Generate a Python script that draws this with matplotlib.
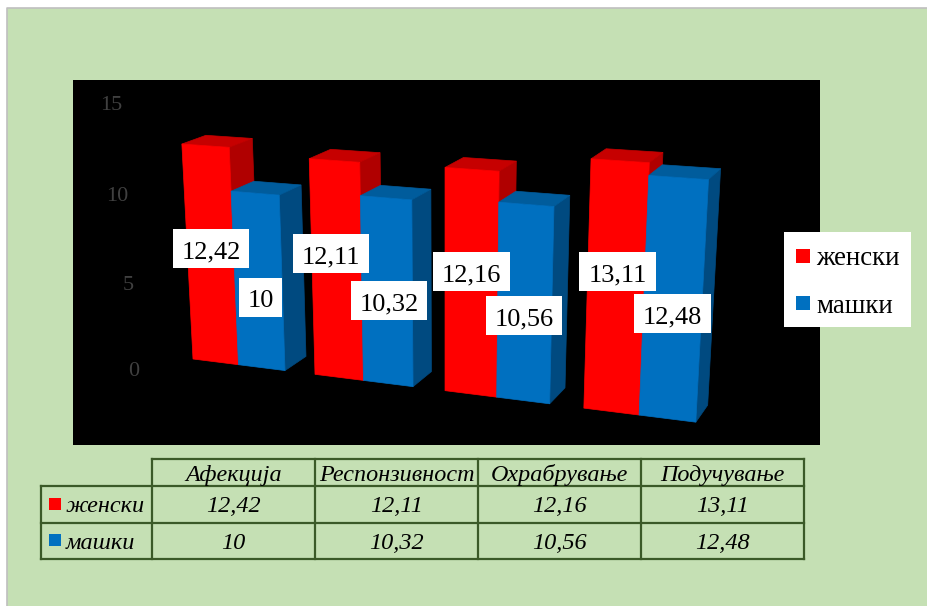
import matplotlib
matplotlib.use('Agg')
import matplotlib.pyplot as plt
from matplotlib.patches import Polygon, Rectangle

categories = ['Афекција', 'Респонзивност', 'Охрабрување', 'Подучување']
series_names = ['женски', 'машки']
female_values = [12.42, 12.11, 12.16, 13.11]
male_values = [10, 10.32, 10.56, 12.48]
y_ticks = [0, 5, 10, 15]

PAGE_BG = '#C5E0B4'
GRID_GREEN = '#3B5A28'
RED_FACES = ('#FF0000', '#B00000', '#C60000')    # front, side, top
BLUE_FACES = ('#0070C0', '#004A80', '#005C9C')

BAR_WIDTH = 0.38

# label box centres, the labels sit by hand off the bars
label_centres = [[(211, 248.5), (331, 253.5), (471.5, 271.5), (617.5, 271.5)],
                 [(260.5, 297.5), (389, 300.5), (524, 315.5), (672.5, 313.5)]]
column_edges = [152, 315, 478, 641, 804]
row_edges = [459, 486, 523, 559]


def fmt(value):
    return str(value).replace('.', ',')


def project(x, y, z):
    # perspective of the 3d box: x in categories, y in value units, z in depth
    w = 1 - 0.0308 * x - 0.00341 * y + 0.0249 * z
    u = 193 + 112.3 * x - 1.517 * y + 28.1 * z
    v = 359 + 3.8 * x - 17.8 * y - 4.98 * z
    return u / w, v / w


def draw_bar(ax, x0, height, faces):
    x1 = x0 + BAR_WIDTH
    front = [(x0, 0, 0), (x1, 0, 0), (x1, height, 0), (x0, height, 0)]
    side = [(x1, 0, 0), (x1, 0, 1), (x1, height, 1), (x1, height, 0)]
    top = [(x0, height, 0), (x1, height, 0), (x1, height, 1), (x0, height, 1)]
    for corners, color in ((side, faces[1]), (top, faces[2]), (front, faces[0])):
        pts = [project(*c) for c in corners]
        ax.add_patch(Polygon(pts, closed=True, fc=color, ec=color, lw=0.5, zorder=3))


plt.rcParams['font.family'] = ['Liberation Serif', 'DejaVu Serif']

fig = plt.figure(figsize=(9.28, 6.06), dpi=100, facecolor='white')
ax = fig.add_axes([0, 0, 1, 1])
ax.set_xlim(0, 928)
ax.set_ylim(606, 0)
ax.axis('off')

# page background, ruled on the top and left only
ax.add_patch(Rectangle((7.5, 7.5), 921, 599, fc=PAGE_BG, ec='none', zorder=1))
ax.plot([7.5, 7.5, 928], [606, 7.5, 7.5], color='#BFBFBF', lw=1.2, zorder=1)
ax.add_patch(Rectangle((73, 80), 747, 365, fc='black', ec='none', zorder=2))

for value in y_ticks:
    u, v = project(-0.26, value, -1)
    ax.text(u + 1, v + 2, str(value), ha='right', va='center', fontsize=16,
            color='#404040', zorder=3)

for i in range(len(categories)):
    draw_bar(ax, i, female_values[i], RED_FACES)
    draw_bar(ax, i + BAR_WIDTH, male_values[i], BLUE_FACES)

# value labels on white boxes
for values, centres in zip((female_values, male_values), label_centres):
    for value, (cx, cy) in zip(values, centres):
        w = 43 if len(fmt(value)) == 2 else 76.5
        ax.add_patch(Rectangle((cx - w / 2, cy - 19.5), w, 39, fc='white', ec='none', zorder=4))
        ax.text(cx, cy + 9.5, fmt(value), ha='center', va='baseline', fontsize=19,
                color='black', zorder=5)

# legend
ax.add_patch(Rectangle((784, 232), 127, 95, fc='white', ec='none', zorder=4))
for name, faces, swatch_y, base_y in zip(series_names, (RED_FACES, BLUE_FACES), (249, 296), (265, 313)):
    ax.add_patch(Rectangle((796, swatch_y), 14, 14, fc=faces[0], ec='none', zorder=5))
    ax.text(816, base_y, name, ha='left', va='baseline', fontsize=19.4, color='black', zorder=5)

# data table under the plot
for y in row_edges:
    ax.plot([column_edges[0] if y == row_edges[0] else 41, column_edges[-1]], [y, y],
            color=GRID_GREEN, lw=1.6, solid_capstyle='projecting', zorder=3)
for x in [41] + column_edges:
    ax.plot([x, x], [row_edges[1] if x == 41 else row_edges[0], row_edges[-1]],
            color=GRID_GREEN, lw=1.6, solid_capstyle='projecting', zorder=3)

for left, right, name in zip(column_edges[:-1], column_edges[1:], categories):
    ax.text((left + right) / 2, 481, name, ha='center', va='baseline', fontsize=17.4,
            style='italic', color='black', zorder=5)

rows = zip(series_names, (female_values, male_values), (RED_FACES, BLUE_FACES), (498, 534), (512, 549))
for name, values, faces, swatch_y, base_y in rows:
    ax.add_patch(Rectangle((49, swatch_y), 12, 12, fc=faces[0], ec='none', zorder=5))
    ax.text(66, base_y, name, ha='left', va='baseline', fontsize=17.5,
            style='italic', color='black', zorder=5)
    for left, right, value in zip(column_edges[:-1], column_edges[1:], values):
        ax.text((left + right) / 2, base_y, fmt(value), ha='center', va='baseline',
                fontsize=17.5, style='italic', color='black', zorder=5)

fig.savefig('out.png', dpi=100)
